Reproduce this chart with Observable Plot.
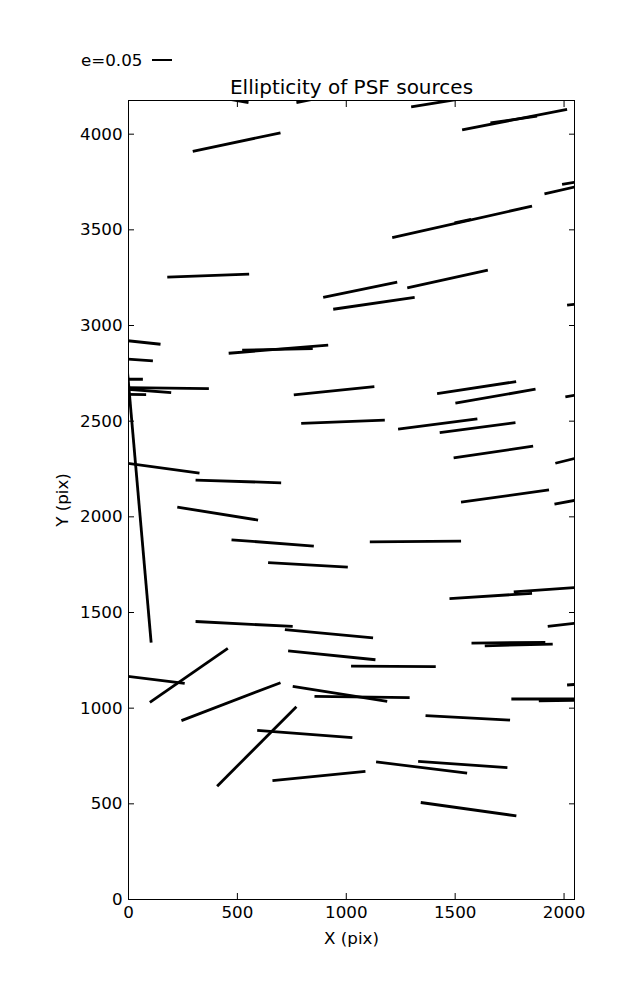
<!DOCTYPE html>
<html><head><meta charset="utf-8">
<script src="https://cdn.jsdelivr.net/npm/d3@7"></script>
<script src="https://cdn.jsdelivr.net/npm/@observablehq/plot@0.6"></script>
<style>
body{margin:0;background:#fff;font-family:"DejaVu Sans",sans-serif;}
#wrap{position:relative;width:637px;height:1000px;}
#legend{position:absolute;left:81px;top:50px;font-size:16.7px;line-height:20px;display:flex;align-items:center;color:#000;}
#legend .key{display:inline-block;width:20px;height:0;border-top:2.8px solid #000;margin-left:10px;}
</style></head>
<body><div id="wrap"><div id="legend"><span>e=0.05</span><span class="key"></span></div></div>
<script>
// segment endpoints in detector pixels
const x1 = [331, 771, 1298, 1532, 1662, 295, 1991, 1910, 1211, 1497, 178, 894, 1280, 940, 2014, -83, -83, 460, 522, -83, -83, -83, -83, -9, 759, 1417, 1501, 2006, 793, 1238, 1429, 1493, 1960, -83, 308, 1527, 1956, 224, 473, 1108, 641, 1474, 1769, 308, 1925, 718, 1575, 1636, 733, 98, 1022, -83, 243, 2014, 754, 854, 1758, 1884, 407, 1364, 591, 1137, 1330, 661, 1342];
const y1 = [4209, 4165, 4143, 4023, 4059, 3910, 3737, 3688, 3459, 3537, 3253, 3147, 3197, 3085, 3106, 2930, 2830, 2855, 2871, 2719, 2676, 2674, 2642, 2815, 2637, 2644, 2594, 2627, 2489, 2458, 2440, 2308, 2280, 2292, 2192, 2077, 2066, 2051, 1880, 1869, 1761, 1573, 1608, 1453, 1427, 1410, 1340, 1326, 1300, 1030, 1220, 1177, 935, 1121, 1114, 1062, 1048, 1038, 592, 961, 884, 719, 722, 621, 507];
const x2 = [551, 973, 1616, 2014, 1876, 698, 2190, 2213, 1853, 1573, 554, 1234, 1650, 1314, 2213, 147, 112, 917, 846, 66, 369, 196, 81, 104, 1129, 1780, 1869, 2213, 1177, 1602, 1777, 1858, 2213, 326, 701, 1931, 2213, 595, 851, 1527, 1007, 1853, 2167, 754, 2167, 1123, 1914, 1948, 1134, 456, 1411, 258, 698, 2213, 1188, 1291, 2167, 2167, 771, 1752, 1028, 1555, 1740, 1088, 1781];
const y2 = [4165, 4212, 4201, 4129, 4094, 4007, 3777, 3766, 3624, 3555, 3269, 3227, 3290, 3147, 3133, 2902, 2815, 2897, 2879, 2719, 2670, 2649, 2639, 1342, 2680, 2707, 2667, 2666, 2505, 2512, 2492, 2369, 2352, 2228, 2178, 2141, 2122, 1983, 1847, 1873, 1737, 1600, 1640, 1427, 1460, 1367, 1344, 1335, 1253, 1312, 1217, 1130, 1133, 1138, 1036, 1055, 1048, 1042, 1008, 938, 846, 660, 689, 670, 437];
const xTicks = [0, 500, 1000, 1500, 2000];
const yTicks = [0, 500, 1000, 1500, 2000, 2500, 3000, 3500, 4000];
const titleText = "Ellipticity of PSF sources";

const segs = x1.map((d, i) => ({x1: d, y1: y1[i], x2: x2[i], y2: y2[i]}));
const fmt = d => String(d);
const T = 6; // inward tick length

const chart = Plot.plot({
  width: 637, height: 1000,
  marginLeft: 128, marginRight: 63, marginTop: 100, marginBottom: 101,
  style: {fontFamily: "DejaVu Sans", fontSize: "16.7px", background: "white", color: "black"},
  x: {domain: [0, 2048]},
  y: {domain: [0, 4176]},
  marks: [
    Plot.link(segs, {x1: "x1", y1: "y1", x2: "x2", y2: "y2", stroke: "black", strokeWidth: 2.8, clip: true}),
    Plot.frame({stroke: "black", strokeWidth: 1}),
    Plot.axisX(xTicks, {anchor: "bottom", tickSize: T, dy: -T, text: null, label: null}),
    Plot.axisX(xTicks, {anchor: "top", tickSize: T, dy: T, text: null, label: null}),
    Plot.axisY(yTicks, {anchor: "left", tickSize: T, dx: T, text: null, label: null}),
    Plot.axisY(yTicks, {anchor: "right", tickSize: T, dx: -T, text: null, label: null}),
    Plot.axisX(xTicks, {anchor: "bottom", tickSize: 0, tickPadding: 7, tickFormat: fmt, label: "X (pix)", labelAnchor: "center", labelOffset: 44, labelArrow: false}),
    Plot.axisY(yTicks, {anchor: "left", tickSize: 0, tickPadding: 6, tickFormat: fmt, label: "Y (pix)", labelAnchor: "center", labelOffset: 72, labelArrow: false}),
    Plot.text([titleText], {frameAnchor: "top", lineAnchor: "bottom", dy: -7, fontSize: 20, fill: "black"})
  ]
});
document.getElementById("wrap").prepend(chart);
</script>
</body></html>
